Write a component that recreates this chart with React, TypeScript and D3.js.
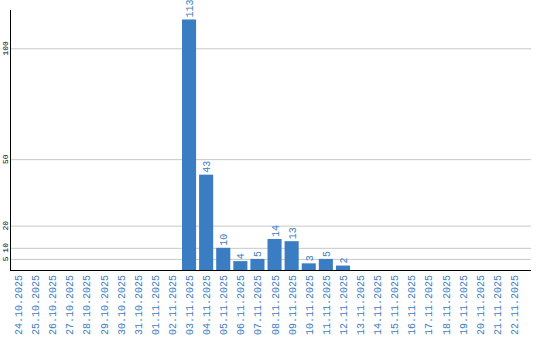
import React from "react";
import * as d3 from "d3";

const dates = [
  "24.10.2025","25.10.2025","26.10.2025","27.10.2025","28.10.2025","29.10.2025",
  "30.10.2025","31.10.2025","01.11.2025","02.11.2025","03.11.2025","04.11.2025",
  "05.11.2025","06.11.2025","07.11.2025","08.11.2025","09.11.2025","10.11.2025",
  "11.11.2025","12.11.2025","13.11.2025","14.11.2025","15.11.2025","16.11.2025",
  "17.11.2025","18.11.2025","19.11.2025","20.11.2025","21.11.2025","22.11.2025",
];
const values = [0,0,0,0,0,0,0,0,0,0,113,43,10,4,5,14,13,3,5,2,0,0,0,0,0,0,0,0,0,0];
const yTicks = [5, 10, 20, 50, 100];

const W = 540, H = 340;
const left = 11, right = 531, base = 270, step = 17;
const BLUE = "#3a7dc2";
const FONT = "'Liberation Mono', monospace";

export default function App() {
  const x = d3.scaleBand<string>().domain(dates).range([left, left + step * dates.length]).paddingInner(3 / 17).paddingOuter(0).align(0);
  const y = d3.scaleLinear().domain([0, 100]).range([base, base - 221.7]);
  return (
    <svg width={W} height={H} style={{ position: "absolute", left: 0, top: 0, background: "#fff" }}>
      {yTicks.map((t) => (
        <g key={t}>
          <line x1={left} x2={right} y1={y(t) + 0.5} y2={y(t) + 0.5} stroke="#c8c8c8" strokeWidth={1} />
          <text transform={`translate(7.5,${y(t)}) rotate(-90)`} textAnchor="middle" fontFamily={FONT} fontSize={8} fill="#000">{t}</text>
        </g>
      ))}
      {dates.map((d, i) => values[i] > 0 ? (
        <g key={d}>
          <rect x={x(d)} y={y(values[i])} width={x.bandwidth()} height={base - y(values[i])} fill={BLUE} />
          <text transform={`translate(${(x(d) as number) + x.bandwidth() / 2 + 4},${y(values[i]) - 2}) rotate(-90)`} fontFamily={FONT} fontSize={10} fill={BLUE}>{values[i]}</text>
        </g>
      ) : null)}
      <line x1={left - 0.5} x2={left - 0.5} y1={10} y2={base + 1} stroke="#000" strokeWidth={1} />
      <line x1={left - 1} x2={right} y1={base + 0.5} y2={base + 0.5} stroke="#000" strokeWidth={1} />
      {dates.map((d) => (
        <text key={d} transform={`translate(${(x(d) as number) + x.bandwidth() / 2 + 4},275) rotate(-90)`} textAnchor="end" fontFamily={FONT} fontSize={10} fill={BLUE}>{d}</text>
      ))}
    </svg>
  );
}
